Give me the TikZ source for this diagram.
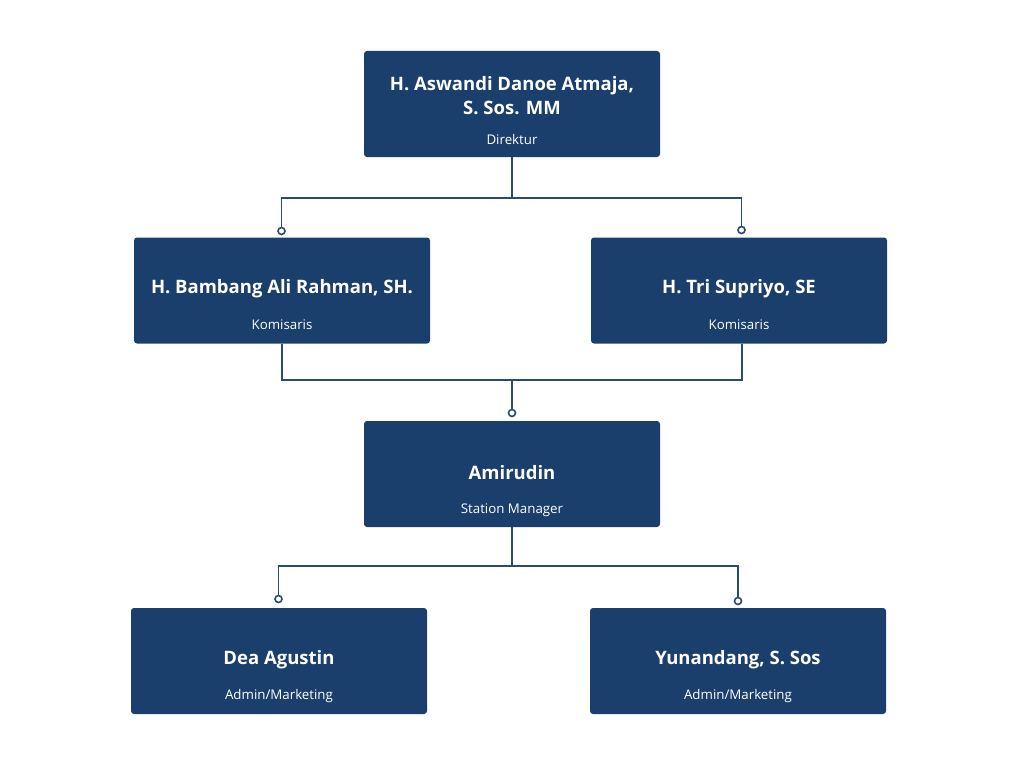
\documentclass[tikz,border=0pt]{standalone}
\usepackage{fontspec}
\setmainfont{Open Sans}
\definecolor{navy}{RGB}{26,63,108}
\definecolor{linec}{RGB}{40,75,120}
\tikzset{
  box/.style={fill=navy, rounded corners=3pt, minimum width=296pt, minimum height=106pt, inner sep=0pt},
  namet/.style={text=white, font=\fontsize{18.5}{24.5}\selectfont\bfseries, align=center, inner sep=0pt},
  rolet/.style={text=white, font=\fontsize{13.3}{16}\selectfont, inner sep=0pt},
  conn/.style={draw=linec, line width=1.6pt},
  dot/.style={circle, draw=linec, line width=1.6pt, fill=white, minimum size=7pt, inner sep=0pt}
}
\begin{document}
\begin{tikzpicture}[x=1pt,y=-1pt]
\useasboundingbox (0,0) rectangle (1024,768);
\fill[white] (0,0) rectangle (1024,768);
% boxes
\node[box] (d) at (512,104) {};
\node[box] (k1) at (282,290.5) {};
\node[box] (k2) at (739,290.5) {};
\node[box] (sm) at (512,474) {};
\node[box] (a1) at (279,661) {};
\node[box] (a2) at (738,661) {};
% texts
\node[namet] (dn) at (512,95.5) {H. Aswandi Danoe Atmaja,\\S. Sos. MM};
\node[rolet] (dr) at (512,140) {Direktur};
\node[namet] (k1n) at (282,288.5) {H. Bambang Ali Rahman, SH.};
\node[rolet] (k1r) at (282,325) {Komisaris};
\node[namet] (k2n) at (739,288.5) {H. Tri Supriyo, SE};
\node[rolet] (k2r) at (739,325) {Komisaris};
\node[namet] (smn) at (512,472.5) {Amirudin};
\node[rolet] (smr) at (512,510) {Station Manager};
\node[namet] (a1n) at (279,659.5) {Dea Agustin};
\node[rolet] (a1r) at (279,696) {Admin/Marketing};
\node[namet] (a2n) at (738,659.5) {Yunandang, S. Sos};
\node[rolet] (a2r) at (738,696) {Admin/Marketing};
% junctions
\coordinate (j1) at (512,198);
\coordinate (j2) at (512,380);
\coordinate (j3) at (512,566);
% dots
\node[dot] (c1) at (281.5,231) {};
\node[dot] (c2) at (741.5,230) {};
\node[dot] (c3) at (512,413) {};
\node[dot] (c4) at (278.5,599) {};
\node[dot] (c5) at (738,601) {};
% connectors
\draw[conn] (d.south) -- (j1);
\draw[conn] (j1) -| (c1.north);
\draw[conn] (j1) -| (c2.north);
\draw[conn] (k1.south) |- (j2);
\draw[conn] ([xshift=3pt]k2.south) |- (j2);
\draw[conn] (j2) -- (c3.north);
\draw[conn] (sm.south) -- (j3);
\draw[conn] (j3) -| (c4.north);
\draw[conn] (j3) -| (c5.north);
\end{tikzpicture}
\end{document}
